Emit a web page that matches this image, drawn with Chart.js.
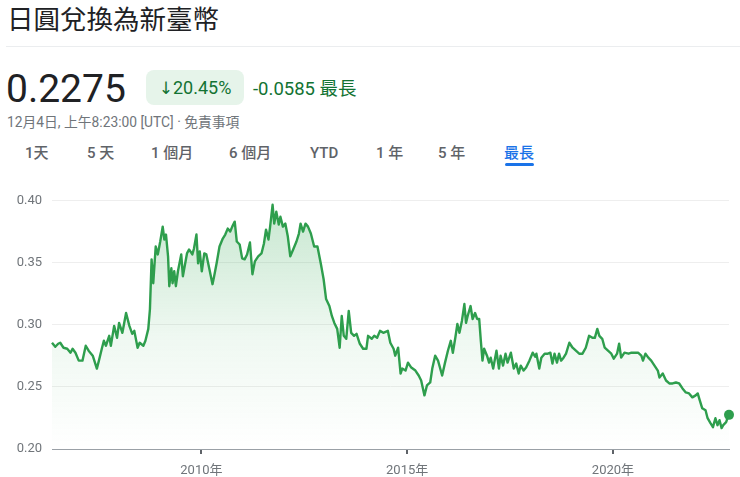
<!DOCTYPE html>
<html lang="zh-Hant">
<head>
<meta charset="utf-8">
<script src="https://cdn.jsdelivr.net/npm/chart.js@4/dist/chart.umd.min.js"></script>
<style>
  html, body { margin: 0; padding: 0; background: #fff; }
  body { width: 740px; height: 477px; position: relative; overflow: hidden;
         font-family: Roboto, "Noto Sans CJK TC", sans-serif; color: #202124; }
  .abs { position: absolute; white-space: nowrap; }
  #title { left: 7px; top: 5px; font-size: 26.5px; line-height: 26px; font-family: "Noto Sans CJK TC", sans-serif; color: #202124; }
  #sep { left: 6px; right: 0; top: 46px; height: 1px; background: #ebedef; }
  #price { left: 6px; top: 70px; font-size: 39px; line-height: 39px; color: #202124; }
  #badge { left: 146px; top: 70px; width: 98px; height: 35px; border-radius: 8px; background: #e6f4ea;
           color: #137333; font-size: 18px; line-height: 35px; text-align: center; }
  #badge .arr { font-family: "DejaVu Sans", sans-serif; font-size: 17px; }
  #chg { left: 253px; top: 78px; font-size: 18.5px; line-height: 18px; color: #137333; }
  #chg .cjk { font-family: "Noto Sans CJK TC", sans-serif; }
  #date { left: 7px; top: 115px; font-size: 13.8px; line-height: 14px; color: #70757a; }
  .tab { top: 145px; font-size: 15px; line-height: 16px; color: #5f6368; font-weight: 500; }
  .tab.on { color: #1a73e8; }
  #ul { left: 505px; top: 163px; width: 29px; height: 3px; border-radius: 2px; background: #1a73e8; }
  #wrap { position: absolute; left: 0; top: 183px; width: 740px; height: 294px; }
</style>
</head>
<body>
<div id="title" class="abs">日圓兌換為新臺幣</div>
<div id="sep" class="abs"></div>
<div id="price" class="abs">0.2275</div>
<div id="badge" class="abs"><span class="arr">↓</span>20.45%</div>
<div id="chg" class="abs">-0.0585 <span class="cjk">最長</span></div>
<div id="date" class="abs">12月4日, 上午8:23:00 [UTC] · 免責事項</div>
<div class="abs tab" style="left:25px">1天</div>
<div class="abs tab" style="left:87px">5 天</div>
<div class="abs tab" style="left:151px">1 個月</div>
<div class="abs tab" style="left:229px">6 個月</div>
<div class="abs tab" style="left:310px">YTD</div>
<div class="abs tab" style="left:376px">1 年</div>
<div class="abs tab" style="left:438px">5 年</div>
<div class="abs tab on" style="left:504px">最長</div>
<div id="ul" class="abs"></div>
<div id="wrap"><canvas id="c"></canvas></div>
<script>
// Dates as decimal years
const dates = [
2006.37,2006.45,2006.52,2006.57,2006.65,2006.74,2006.82,2006.87,2006.94,2007.02,
2007.11,2007.19,2007.26,2007.36,2007.46,2007.51,2007.58,2007.63,2007.68,2007.76,
2007.80,2007.88,2007.95,2008.00,2008.08,2008.17,2008.25,2008.32,2008.37,2008.45,
2008.50,2008.59,2008.64,2008.71,2008.75,2008.79,2008.83,2008.89,2008.94,2009.00,
2009.06,2009.10,2009.14,2009.19,2009.22,2009.27,2009.30,2009.34,2009.38,2009.43,
2009.51,2009.55,2009.65,2009.70,2009.78,2009.82,2009.88,2009.92,2009.96,2010.01,
2010.07,2010.12,2010.19,2010.27,2010.31,2010.37,2010.44,2010.52,2010.58,2010.64,
2010.70,2010.75,2010.81,2010.86,2010.93,2010.99,2011.05,2011.11,2011.18,2011.24,
2011.30,2011.38,2011.46,2011.52,2011.57,2011.63,2011.67,2011.73,2011.77,2011.82,
2011.88,2011.92,2011.98,2012.04,2012.10,2012.16,2012.23,2012.31,2012.37,2012.41,
2012.47,2012.53,2012.59,2012.66,2012.74,2012.82,2012.90,2012.97,2013.03,2013.11,
2013.17,2013.23,2013.30,2013.36,2013.41,2013.46,2013.52,2013.58,2013.64,2013.71,
2013.77,2013.85,2013.93,2014.01,2014.05,2014.14,2014.20,2014.27,2014.34,2014.42,
2014.53,2014.59,2014.67,2014.71,2014.78,2014.84,2014.88,2014.96,2015.02,2015.10,
2015.20,2015.28,2015.34,2015.42,2015.48,2015.56,2015.61,2015.68,2015.75,2015.85,
2015.92,2015.99,2016.06,2016.11,2016.17,2016.22,2016.27,2016.33,2016.39,2016.43,
2016.47,2016.54,2016.59,2016.65,2016.70,2016.75,2016.79,2016.83,2016.87,2016.94,
2016.99,2017.03,2017.09,2017.17,2017.23,2017.27,2017.33,2017.39,2017.44,2017.52,
2017.59,2017.65,2017.71,2017.76,2017.83,2017.89,2017.97,2018.05,2018.11,2018.14,
2018.21,2018.26,2018.34,2018.42,2018.48,2018.53,2018.58,2018.64,2018.69,2018.74,
2018.80,2018.86,2018.94,2019.02,2019.10,2019.18,2019.26,2019.34,2019.42,2019.50,
2019.56,2019.62,2019.67,2019.74,2019.80,2019.88,2019.96,2020.02,2020.10,2020.15,
2020.20,2020.28,2020.38,2020.45,2020.53,2020.61,2020.69,2020.73,2020.79,2020.86,
2020.93,2021.01,2021.09,2021.13,2021.21,2021.29,2021.37,2021.45,2021.53,2021.61,
2021.69,2021.77,2021.85,2021.93,2022.01,2022.06,2022.11,2022.17,2022.25,2022.30,
2022.37,2022.43,2022.49,2022.54,2022.59,2022.64,2022.68,2022.75,2022.80,2022.82
];
// JPY -> TWD rate
const rates = [
0.2856,0.2824,0.2848,0.2856,0.2816,0.2808,0.2776,0.2808,0.2776,0.2712,
0.2712,0.2832,0.2792,0.2752,0.2648,0.2712,0.2808,0.2872,0.2832,0.2912,
0.2832,0.2992,0.2896,0.3016,0.2936,0.3096,0.2992,0.2928,0.2952,0.2816,
0.2856,0.2832,0.2872,0.2968,0.3128,0.3528,0.3336,0.3632,0.3568,0.3672,
0.3792,0.3688,0.3728,0.3552,0.3312,0.3456,0.3336,0.3432,0.3312,0.3432,
0.3568,0.3392,0.3576,0.3608,0.3568,0.3616,0.3728,0.3496,0.3592,0.3432,
0.3576,0.3568,0.3456,0.3328,0.3392,0.3496,0.3632,0.3696,0.3728,0.3776,
0.3752,0.3792,0.3832,0.3672,0.3648,0.3536,0.3528,0.3568,0.3664,0.3408,
0.3512,0.3552,0.3576,0.3656,0.3768,0.3688,0.3792,0.3968,0.3816,0.3912,
0.3808,0.3872,0.3792,0.3816,0.3712,0.3552,0.3608,0.3672,0.3736,0.3816,
0.3752,0.3816,0.3792,0.3736,0.3632,0.3632,0.3496,0.3368,0.3208,0.3152,
0.3072,0.3016,0.2968,0.2816,0.3072,0.2912,0.2888,0.3112,0.2936,0.2912,
0.2928,0.2848,0.2808,0.2808,0.2912,0.2888,0.2912,0.2896,0.2952,0.2936,
0.2952,0.2856,0.2808,0.2752,0.2816,0.2608,0.2648,0.2632,0.2696,0.2656,
0.2632,0.2592,0.2552,0.2432,0.2512,0.2536,0.2648,0.2752,0.2712,0.2592,
0.2696,0.2792,0.2872,0.2776,0.2896,0.3008,0.2936,0.3032,0.3168,0.3016,
0.3072,0.3152,0.3048,0.3096,0.3048,0.3048,0.2872,0.2712,0.2808,0.2752,
0.2696,0.2736,0.2648,0.2792,0.2648,0.2752,0.2672,0.2768,0.2696,0.2776,
0.2648,0.2688,0.2608,0.2672,0.2632,0.2656,0.2712,0.2776,0.2744,0.2768,
0.2648,0.2736,0.2768,0.2768,0.2776,0.2688,0.2768,0.2696,0.2768,0.2712,
0.2736,0.2768,0.2856,0.2816,0.2792,0.2768,0.2768,0.2816,0.2912,0.2896,
0.2896,0.2968,0.2912,0.2888,0.2816,0.2792,0.2768,0.2728,0.2768,0.2848,
0.2736,0.2776,0.2768,0.2776,0.2776,0.2776,0.2752,0.2712,0.2768,0.2736,
0.2712,0.2672,0.2632,0.2576,0.2608,0.2552,0.2528,0.2528,0.2536,0.2528,
0.2488,0.2456,0.2448,0.2416,0.2432,0.2448,0.2392,0.2328,0.2312,0.2248,
0.2208,0.2176,0.2248,0.2192,0.2232,0.2168,0.2192,0.2216,0.2264,0.2275
];
const yearTicks = [2010, 2015, 2020];
const yTicks = [0.20, 0.25, 0.30, 0.35, 0.40];

const GREEN = '#2e9e4d';
const points = dates.map((d, i) => ({ x: d, y: rates[i] }));
const lastIdx = points.length - 1;

new Chart(document.getElementById('c'), {
  type: 'line',
  data: {
    datasets: [{
      data: points,
      clip: false,
      borderColor: GREEN,
      borderWidth: 2.4,
      borderJoinStyle: 'round',
      tension: 0,
      fill: 'start',
      backgroundColor: (ctx) => {
        const area = ctx.chart.chartArea;
        if (!area) return 'rgba(52,168,83,0.1)';
        const g = ctx.chart.ctx.createLinearGradient(0, area.top, 0, area.bottom);
        g.addColorStop(0, 'rgba(52,168,83,0.28)');
        g.addColorStop(0.55, 'rgba(52,168,83,0.08)');
        g.addColorStop(1, 'rgba(52,168,83,0)');
        return g;
      },
      pointRadius: (ctx) => ctx.dataIndex === lastIdx ? 5 : 0,
      pointHoverRadius: 0,
      pointBackgroundColor: GREEN,
      pointBorderColor: GREEN,
      pointBorderWidth: 0
    }]
  },
  options: {
    responsive: true,
    maintainAspectRatio: false,
    animation: false,
    events: [],
    layout: { padding: { top: 9, right: 11, left: 0, bottom: 0 } },
    plugins: { legend: { display: false }, tooltip: { enabled: false } },
    scales: {
      x: {
        type: 'linear',
        min: dates[0],
        max: dates[lastIdx],
        afterBuildTicks: (axis) => { axis.ticks = yearTicks.map(v => ({ value: v })); },
        afterFit: (axis) => { axis.height = 28; },
        ticks: {
          callback: (v) => v + '年',
          color: '#70757a',
          font: { family: 'Roboto, "Noto Sans CJK TC", sans-serif', size: 13 },
          padding: 9,
          maxRotation: 0,
          autoSkip: false
        },
        grid: { drawOnChartArea: false, drawTicks: true, tickLength: 5, tickColor: '#5f6368', tickWidth: 2, lineWidth: 2 },
        border: { display: true, color: '#9aa0a6', width: 1 }
      },
      y: {
        min: 0.20,
        max: 0.40,
        afterBuildTicks: (axis) => { axis.ticks = yTicks.map(v => ({ value: v })); },
        afterFit: (axis) => { axis.width = 52; },
        ticks: {
          callback: (v) => Number(v).toFixed(2),
          color: '#70757a',
          font: { family: 'Roboto, sans-serif', size: 13 },
          padding: 10
        },
        grid: { color: '#eeeeee', lineWidth: 1, drawTicks: false },
        border: { display: false }
      }
    }
  }
});
</script>
</body>
</html>
